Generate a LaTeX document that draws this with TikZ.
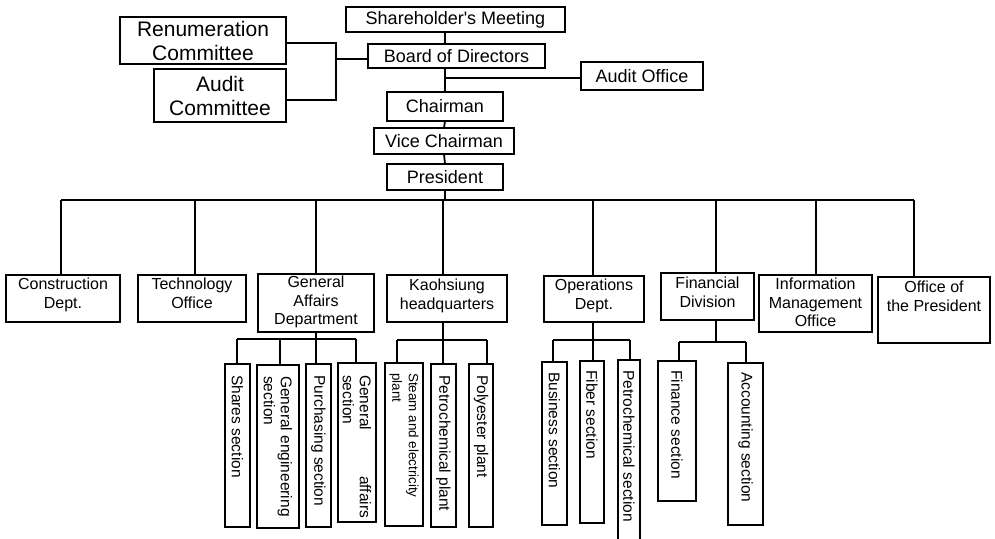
\documentclass[tikz,border=0pt]{standalone}
\usepackage{fontspec}
\setmainfont{Liberation Sans}[Ligatures=TeXOff]
\usetikzlibrary{calc}
\newcommand{\ftop}{\fontsize{18}{21}\selectfont}
\newcommand{\fcom}{\fontsize{21}{24}\selectfont}
\newcommand{\fdep}{\fontsize{16}{18.5}\selectfont}
\newcommand{\fsec}{\fontsize{15.5}{17}\selectfont}
\newcommand{\fsml}{\fontsize{13.4}{16.5}\selectfont}
\newcommand{\bx}[5]{\node[box,minimum width={#4-#2},minimum height={#5-#3}] (#1) at ({(#2+#4)/2},{(#3+#5)/2}) {};}
\tikzset{
  box/.style={draw,rectangle,line width=1.8pt,inner sep=0pt,outer sep=0pt},
  lbl/.style={inner sep=0pt,align=center},
  tlbl/.style={inner sep=0pt,align=center,anchor=north,font=\fdep},
  vlbl/.style={inner sep=0pt,rotate=-90,anchor=west,align=left,font=\fsec},
  ln/.style={line width=1.8pt}
}
\begin{document}
\begin{tikzpicture}[x=1pt,y=-1pt]
\useasboundingbox (0,0) rectangle (995,538);
\clip (0,0) rectangle (995,538);
% top level boxes
\bx{sm}{346}{7}{565}{32}
\bx{board}{368}{44}{545}{68}
\bx{ao}{581}{62}{703}{90}
\bx{chair}{387}{92}{503}{121}
\bx{vc}{374}{128}{514}{154}
\bx{pres}{387}{164}{503}{190}
\bx{ren}{120}{17}{286}{64}
\bx{aud}{154}{69}{286}{122}
\node[lbl,font=\ftop] at (sm) {Shareholder's Meeting};
\node[lbl,font=\ftop] at (board) {Board of Directors};
\node[lbl,font=\ftop] at (ao) {Audit Office};
\node[lbl,font=\ftop] at (chair) {Chairman};
\node[lbl,font=\ftop] at (vc) {Vice Chairman};
\node[lbl,font=\ftop] at (pres) {President};
\node[lbl,font=\fcom] at (ren) {Renumeration\\Committee};
\node[lbl,font=\fcom] at (aud) {Audit\\Committee};
% departments
\bx{cons}{6}{275}{120}{322}
\bx{tech}{138}{275}{246}{322}
\bx{ga}{258}{274}{374}{332}
\bx{kao}{387}{275}{507}{322}
\bx{ops}{544}{276}{644}{322}
\bx{fin}{661}{273}{754}{320}
\bx{info}{759}{275}{872}{332}
\bx{ootp}{878}{277}{990}{343}
\node[tlbl] at ([yshift=-3pt]cons.north) {Construction\\Dept.};
\node[tlbl] at ([yshift=-3pt]tech.north) {Technology\\Office};
\node[tlbl] at ([yshift=-2pt]ga.north) {General\\Affairs\\Department};
\node[tlbl] at ([yshift=-4pt]kao.north) {Kaohsiung\\headquarters};
\node[tlbl] at ([yshift=-3pt]ops.north) {Operations\\Dept.};
\node[tlbl] at ([yshift=-4pt]fin.north) {Financial\\Division};
\node[tlbl] at ([yshift=-3pt]info.north) {Information\\Management\\Office};
\node[tlbl] at ([yshift=-4pt]ootp.north) {Office of\\the President};
% sections
\bx{shares}{225}{364}{250}{527}
\bx{geng}{257}{365}{299}{528}
\bx{purch}{306}{364}{331}{527}
\bx{gaff}{338}{363}{376}{522}
\bx{steam}{385}{363}{423}{526}
\bx{petp}{431}{364}{456}{527}
\bx{poly}{469}{364}{493}{527}
\bx{busi}{542}{362}{567}{525}
\bx{fiber}{580}{361}{604}{523}
\bx{pets}{618}{360}{640}{570}
\bx{finsec}{658}{361}{696}{501}
\bx{acct}{728}{363}{763}{525}
\node[vlbl] at ([yshift=-11pt]shares.north) {Shares section};
\node[vlbl] at ([yshift=-11pt]geng.north) {General engineering\\section};
\node[vlbl] at ([yshift=-11pt]purch.north) {Purchasing section};
\node[vlbl] at ([yshift=-12pt]gaff.north) {\makebox[143pt][l]{General\hfill affairs}\\section};
\node[vlbl,font=\fsml] at ([yshift=-10pt]steam.north) {Steam and electricity\\plant};
\node[vlbl] at ([yshift=-11pt]petp.north) {Petrochemical plant};
\node[vlbl] at ([yshift=-11pt]poly.north) {Polyester plant};
\node[vlbl] at ([yshift=-10pt]busi.north) {Business section};
\node[vlbl] at ([yshift=-9pt]fiber.north) {Fiber section};
\node[vlbl] at ([yshift=-10pt]pets.north) {Petrochemical section};
\node[vlbl] at ([yshift=-9pt]finsec.north) {Finance section};
\node[vlbl] at ([yshift=-9pt]acct.north) {Accounting section};
% top connectors
\coordinate (sp) at (445,0);
\draw[ln] (sm.south -| sp) -- (board.north -| sp);
\draw[ln] (board.south -| sp) -- (chair.north -| sp);
\coordinate (aoj) at ([yshift=-2pt]ao.west);
\draw[ln] (aoj -| sp) -- (aoj);
\draw[ln] (chair.south) -- (vc.north);
\draw[ln] (vc.south) -- (pres.north);
\coordinate (cj) at (336,0);
\coordinate (r1) at ([yshift=-2.5pt]ren.east);
\coordinate (a1) at ([yshift=-4.5pt]aud.east);
\coordinate (b1) at ([yshift=-3pt]board.west);
\draw[ln] (r1) -- (r1 -| cj) -- (a1 -| cj) -- (a1);
\draw[ln] (b1 -| cj) -- (b1);
% main bus
\coordinate (bL) at (61,200);
\coordinate (bR) at (914,200);
\draw[ln] (pres.south) -- (pres.south |- bL);
\draw[ln] (bL) -- (bR);
\foreach \n/\x in {cons/61,tech/195,ga/316,kao/443,ops/593,fin/716,info/816,ootp/914}{
  \coordinate (t) at (\x,200);
  \draw[ln] (t) -- (t |- \n.north);
}
% sub buses
\coordinate (gb) at (316,339);
\draw[ln] (gb |- ga.south) -- (gb);
\coordinate (gl) at (237,339); \coordinate (gr) at (356,339);
\draw[ln] (gl) -- (gr);
\foreach \n/\x in {shares/237,geng/280,purch/316,gaff/356}{
  \coordinate (t) at (\x,339);
  \draw[ln] (t) -- (t |- \n.north);
}
\coordinate (kb) at (443,340);
\draw[ln] (kb |- kao.south) -- (kb);
\coordinate (kl) at (397,340); \coordinate (kr) at (487,340);
\draw[ln] (kl) -- (kr);
\foreach \n/\x in {steam/397,petp/443,poly/487}{
  \coordinate (t) at (\x,340);
  \draw[ln] (t) -- (t |- \n.north);
}
\coordinate (ob) at (593,340);
\draw[ln] (ob |- ops.south) -- (ob);
\coordinate (ol) at (553,340); \coordinate (or) at (630,340);
\draw[ln] (ol) -- (or);
\foreach \n/\x in {busi/553,fiber/593,pets/630}{
  \coordinate (t) at (\x,340);
  \draw[ln] (t) -- (t |- \n.north);
}
\coordinate (fb) at (716,342);
\draw[ln] (fb |- fin.south) -- (fb);
\coordinate (fl) at (679,342); \coordinate (fr) at (746,342);
\draw[ln] (fl) -- (fr);
\foreach \n/\x in {finsec/679,acct/746}{
  \coordinate (t) at (\x,342);
  \draw[ln] (t) -- (t |- \n.north);
}
\end{tikzpicture}
\end{document}
